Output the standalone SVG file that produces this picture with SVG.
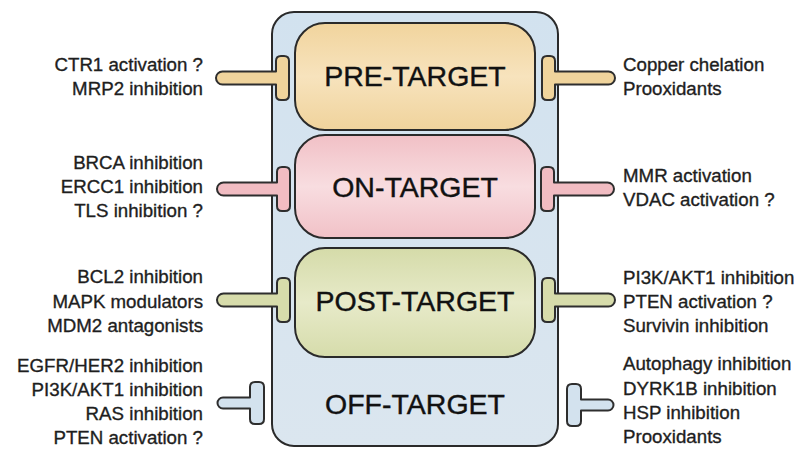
<svg xmlns="http://www.w3.org/2000/svg" xmlns:xlink="http://www.w3.org/1999/xlink" width="803" height="449" viewBox="0 0 803 449">
<style>
  .lbl{font-family:"Liberation Sans",Arial,sans-serif;font-size:18.7px;fill:#1e1e1e;stroke:#1e1e1e;stroke-width:0.35px;}
  .l{text-anchor:end;}
  .r{text-anchor:start;}
  .ttl{font-family:"Liberation Sans",Arial,sans-serif;font-size:28.5px;fill:#111;stroke:#111;stroke-width:0.4px;text-anchor:middle;}
  .box{stroke:#2a2a2a;stroke-width:2;}
  .tee{stroke:#2e2e2e;stroke-width:2;stroke-linejoin:round;}
  .t-pre{fill:#f0d49c;}
  .t-on{fill:#f1bcc2;}
  .t-post{fill:#d7dcab;}
  .t-off{fill:#d3e2ee;}
</style>
<defs>
  <linearGradient id="gCont" x1="0" y1="0" x2="0" y2="1">
    <stop offset="0" stop-color="#d2e2ef"/>
    <stop offset="1" stop-color="#dbe6ef"/>
  </linearGradient>
  <linearGradient id="gPre" x1="0" y1="0" x2="0" y2="1">
    <stop offset="0" stop-color="#f1d49d"/>
    <stop offset="0.5" stop-color="#f7e3bd"/>
    <stop offset="1" stop-color="#f0d39c"/>
  </linearGradient>
  <linearGradient id="gOn" x1="0" y1="0" x2="0" y2="1">
    <stop offset="0" stop-color="#f1c0c6"/>
    <stop offset="0.5" stop-color="#f8dde0"/>
    <stop offset="1" stop-color="#f1c1c7"/>
  </linearGradient>
  <linearGradient id="gPost" x1="0" y1="0" x2="0" y2="1">
    <stop offset="0" stop-color="#d5dba9"/>
    <stop offset="0.5" stop-color="#e7eac9"/>
    <stop offset="1" stop-color="#d6dcab"/>
  </linearGradient>
  <path id="tee" class="tee" d="M -53.5,-6.5 H 0 V -17 Q 0,-22 5,-22 H 8 Q 13,-22 13,-17 V 17 Q 13,22 8,22 H 5 Q 0,22 0,17 V 6.5 H -53.5 A 6.5 6.5 0 0 1 -53.5,-6.5 Z"/>
  <path id="tee2" class="tee" d="M -27,-5.5 H 0 V -16 Q 0,-21 5,-21 H 9 Q 14,-21 14,-16 V 16 Q 14,21 9,21 H 5 Q 0,21 0,16 V 5.5 H -27 A 5.5 5.5 0 0 1 -27,-5.5 Z"/>
</defs>

<g id="container">
  <rect x="272" y="12" width="286" height="434" rx="22" ry="22" fill="url(#gCont)" class="box"/>
</g>

<g id="connectors">
  <use xlink:href="#tee" class="t-pre" transform="translate(276,78)"/>
  <use xlink:href="#tee" class="t-pre" transform="translate(555,78) scale(-1,1)"/>
  <use xlink:href="#tee" class="t-on" transform="translate(277,189)"/>
  <use xlink:href="#tee" class="t-on" transform="translate(554,189) scale(-1,1)"/>
  <use xlink:href="#tee" class="t-post" transform="translate(277,300)"/>
  <use xlink:href="#tee" class="t-post" transform="translate(555,300) scale(-1,1)"/>
  <use xlink:href="#tee2" class="t-off" transform="translate(250,403)"/>
  <use xlink:href="#tee2" class="t-off" transform="translate(581,405) scale(-1,1)"/>
</g>

<g id="pre-target">
  <rect x="295" y="23" width="240" height="107" rx="30" ry="30" fill="url(#gPre)" class="box"/>
  <text class="ttl" x="415" y="86">PRE-TARGET</text>
</g>
<g id="on-target">
  <rect x="295" y="135" width="240" height="103" rx="30" ry="30" fill="url(#gOn)" class="box"/>
  <text class="ttl" x="415" y="197">ON-TARGET</text>
</g>
<g id="post-target">
  <rect x="295" y="248" width="240" height="109" rx="30" ry="30" fill="url(#gPost)" class="box"/>
  <text class="ttl" x="415" y="311">POST-TARGET</text>
</g>
<g id="off-target">
  <text class="ttl" x="415" y="414">OFF-TARGET</text>
</g>

<g id="pre-left">
  <text class="lbl l" x="203" y="71">CTR1 activation ?</text>
  <text class="lbl l" x="203" y="95">MRP2 inhibition</text>
</g>
<g id="pre-right">
  <text class="lbl r" x="623" y="71">Copper chelation</text>
  <text class="lbl r" x="623" y="95">Prooxidants</text>
</g>
<g id="on-left">
  <text class="lbl l" x="203" y="169">BRCA inhibition</text>
  <text class="lbl l" x="203" y="193">ERCC1 inhibition</text>
  <text class="lbl l" x="203" y="217">TLS inhibition ?</text>
</g>
<g id="on-right">
  <text class="lbl r" x="623" y="182">MMR activation</text>
  <text class="lbl r" x="623" y="206">VDAC activation ?</text>
</g>
<g id="post-left">
  <text class="lbl l" x="203" y="283">BCL2 inhibition</text>
  <text class="lbl l" x="203" y="308">MAPK modulators</text>
  <text class="lbl l" x="203" y="332">MDM2 antagonists</text>
</g>
<g id="post-right">
  <text class="lbl r" x="623" y="284">PI3K/AKT1 inhibition</text>
  <text class="lbl r" x="623" y="308">PTEN activation ?</text>
  <text class="lbl r" x="623" y="332">Survivin inhibition</text>
</g>
<g id="off-left">
  <text class="lbl l" x="203" y="372">EGFR/HER2 inhibition</text>
  <text class="lbl l" x="203" y="396">PI3K/AKT1 inhibition</text>
  <text class="lbl l" x="203" y="420">RAS inhibition</text>
  <text class="lbl l" x="203" y="444">PTEN activation ?</text>
</g>
<g id="off-right">
  <text class="lbl r" x="623" y="370">Autophagy inhibition</text>
  <text class="lbl r" x="623" y="395">DYRK1B inhibition</text>
  <text class="lbl r" x="623" y="419">HSP inhibition</text>
  <text class="lbl r" x="623" y="443">Prooxidants</text>
</g>
</svg>
